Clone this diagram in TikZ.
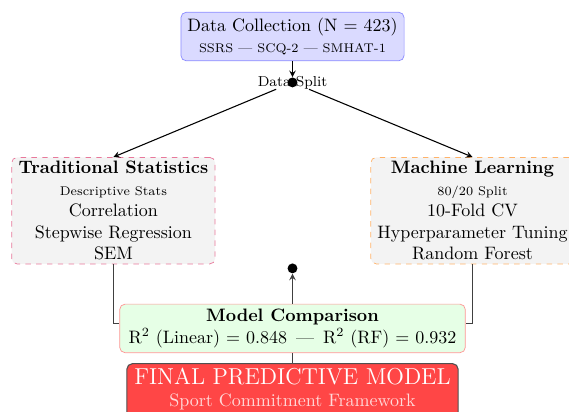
\documentclass[tikz,border=0pt]{standalone}
\usetikzlibrary{positioning}
\definecolor{collectfill}{RGB}{218,218,255}
\definecolor{collectline}{RGB}{140,140,255}
\definecolor{statline}{RGB}{232,120,155}
\definecolor{mlline}{RGB}{255,178,105}
\definecolor{boxgray}{RGB}{243,243,243}
\definecolor{comparefill}{RGB}{230,255,230}
\definecolor{compareline}{RGB}{255,150,150}
\definecolor{finalfill}{RGB}{255,70,70}
\definecolor{finalline}{RGB}{80,80,80}
\tikzset{%
  splitarrow/.style = {-stealth,semithick},
  joinline/.style = {semithick,black!75},
  splitdot/.style = {circle,fill,inner sep=0pt,minimum size=5.5pt},
  splitlabel/.style = {font=\footnotesize,inner sep=0pt},
  collect/.style = {rectangle,draw=collectline,fill=collectfill,rounded corners=3pt,
        align=center,minimum width=124pt,minimum height=27pt,inner sep=2pt},
  statbox/.style = {rectangle,dashed,fill=boxgray,rounded corners=3pt,
        align=center,minimum width=113pt,minimum height=59pt,inner sep=2pt},
  comparebox/.style = {rectangle,draw=compareline,fill=comparefill,rounded corners=3pt,
        align=center,minimum width=192pt,minimum height=27pt,inner sep=2pt},
  finalbox/.style = {rectangle,draw=finalline,semithick,fill=finalfill,rounded corners=3pt,
        align=center,minimum width=184pt,inner sep=2.5pt,text=white}
}
\begin{document}
\begin{tikzpicture}[node distance=10pt and 10pt]
   \useasboundingbox (-162.5pt,20.3pt) rectangle (153.6pt,-208.1pt);
   \node[collect] (data) at (0,0) {Data Collection (N = 423)\\{\scriptsize SSRS --- SCQ-2 --- SMHAT-1}};
   \node[splitlabel] (split) [below=8pt of data] {Data Split};
   \node[splitdot] (dot) at (split) {};

   \node[statbox,draw=statline] (trad) [below=38.5pt of dot,xshift=-99.5pt]
        {\textbf{Traditional Statistics}\\{\scriptsize Descriptive Stats}\\Correlation\\Stepwise Regression\\SEM};
   \node[statbox,draw=mlline] (ml) [below=38.5pt of dot,xshift=100pt]
        {\textbf{Machine Learning}\\{\scriptsize 80/20 Split}\\10-Fold CV\\Hyperparameter Tuning\\Random Forest};

   \node[comparebox] (compare) [below=120pt of dot]
        {\textbf{Model Comparison}\\R$^2$ (Linear) = 0.848 \,---\, R$^2$ (RF) = 0.932};
   \node[splitdot] (merge) [above=16.7pt of compare] {};
   \node[finalbox] (final) [below=5.6pt of compare]
        {{\fontsize{12.8}{15}\selectfont FINAL PREDICTIVE MODEL}\\{\color{white!85!red}Sport Commitment Framework}\rule[-4pt]{0pt}{4pt}};

   \draw[splitarrow] (data) -- (dot);
   \draw[splitarrow] (split) -- (trad.north);
   \draw[splitarrow] (split) -- (ml.north);

   \draw[joinline] (trad) |- ([yshift=2.5pt]compare.west);
   \draw[joinline] (ml) |- ([yshift=2.5pt]compare.east);
   \draw[joinline,-stealth] (compare) -- (merge);
   \draw[joinline] (compare) -- (final);
\end{tikzpicture}
\end{document}
